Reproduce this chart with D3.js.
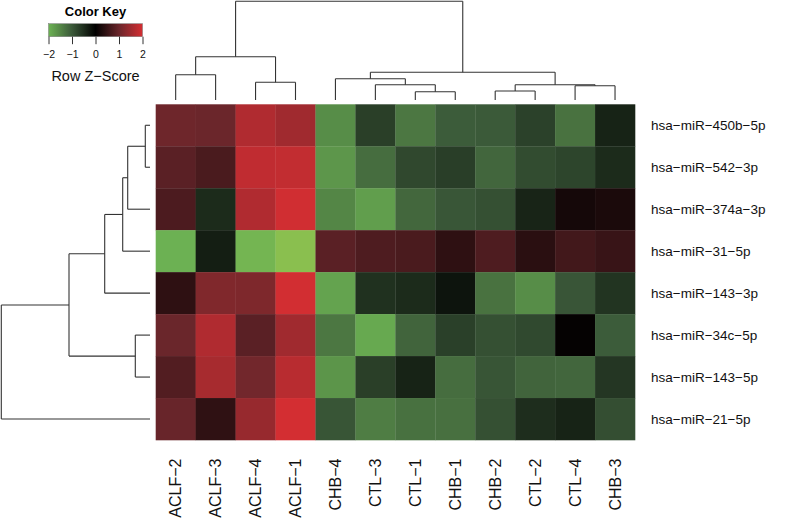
<!DOCTYPE html>
<html>
<head>
<meta charset="utf-8">
<script src="https://cdn.jsdelivr.net/npm/d3@7"></script>
<style>
  body { margin: 0; background: #fff; }
  svg { display: block; font-family: "Liberation Sans", Arial, sans-serif; }
</style>
</head>
<body>
<svg></svg>
<script>
var width = 787,
    height = 519;

// columns and rows in dendrogram order
var colLabels = ["ACLF-2", "ACLF-3", "ACLF-4", "ACLF-1", "CHB-4", "CTL-3", "CTL-1", "CHB-1", "CHB-2", "CTL-2", "CTL-4", "CHB-3"];
var rowLabels = ["hsa-miR-450b-5p", "hsa-miR-542-3p", "hsa-miR-374a-3p", "hsa-miR-31-5p",
                 "hsa-miR-143-3p", "hsa-miR-34c-5p", "hsa-miR-143-5p", "hsa-miR-21-5p"];

// row z-scores, one array per miRNA, same order as colLabels
var z450b = [1.04, 1.01, 1.66, 1.51, -1.58, -0.71, -1.34, -1.03, -1.01, -0.73, -1.28, -0.39];
var z542  = [0.85, 0.70, 1.81, 1.83, -1.69, -1.22, -0.81, -0.70, -1.15, -0.85, -0.77, -0.48];
var z374a = [0.72, -0.48, 1.66, 1.96, -1.50, -1.77, -1.16, -0.97, -0.90, -0.41, 0.20, 0.25];
var z31   = [-1.99, -0.34, -2.05, -2.19, 0.85, 0.74, 0.70, 0.43, 0.74, 0.40, 0.62, 0.53];
var z143_3 = [0.43, 1.21, 1.19, 1.98, -1.83, -0.55, -0.48, -0.22, -1.28, -1.58, -0.96, -0.58];
var z34c  = [1.00, 1.66, 0.85, 1.51, -1.34, -1.90, -1.12, -0.72, -0.90, -0.82, 0.05, -1.03];
var z143_5 = [0.77, 1.58, 1.08, 1.74, -1.67, -0.71, -0.39, -1.23, -0.95, -1.12, -1.15, -0.61];
var z21   = [0.98, 0.44, 1.42, 1.99, -0.95, -1.41, -1.27, -1.26, -0.90, -0.50, -0.39, -0.88];
var zRows = [z450b, z542, z374a, z31, z143_3, z34c, z143_5, z21];

// hclust-style merges: [a, b, height]; "L" + i = leaf i, "M" + j = merge j
var colMerge = [
  ["L0", "L1", 2.53],
  ["L2", "L3", 1.77],
  ["M0", "M1", 4.33],
  ["L6", "L7", 0.83],
  ["L5", "M3", 1.53],
  ["L4", "M4", 2.13],
  ["L8", "L9", 0.90],
  ["L10", "L11", 1.43],
  ["M6", "M7", 1.53],
  ["M5", "M8", 2.77],
  ["M2", "M9", 9.87]
];
var rowMerge = [
  ["L0", "L1", 0.47],
  ["M0", "L2", 2.23],
  ["M1", "L3", 2.73],
  ["M2", "L4", 4.53],
  ["L5", "L6", 1.47],
  ["M3", "M4", 8.10],
  ["M5", "L7", 14.87]
];

var keyTicks = [-2, -1, 0, 1, 2];

var svg = d3.select("svg")
    .attr("width", width)
    .attr("height", height);

var x = d3.scaleBand()
    .domain(colLabels)
    .range([155.7, 635]);

var y = d3.scaleBand()
    .domain(rowLabels)
    .range([104.3, 440]);

// green - black - red, with a couple of extra stops to follow the print's tones
var color = d3.scaleLinear()
    .domain([-2.2, -2, -1, 0, 1, 2])
    .range(["#8cc04f", "#6cb253", "#3b5939", "#000000", "#6a262b", "#d42e32"])
    .clamp(true);

var minus = s => s.replace(/-/g, "\u2212");

// heatmap cells
var cells = [];
zRows.forEach((vals, i) => {
    vals.forEach((v, j) => cells.push({ row: rowLabels[i], col: colLabels[j], v: v }));
});

svg.append("g")
    .selectAll("rect")
    .data(cells)
    .enter().append("rect")
    .attr("x", d => x(d.col))
    .attr("y", d => y(d.row))
    .attr("width", x.bandwidth() + 0.3)
    .attr("height", y.bandwidth() + 0.3)
    .attr("fill", d => color(d.v));

// row labels
svg.append("g")
    .selectAll("text")
    .data(rowLabels)
    .enter().append("text")
    .attr("x", 651)
    .attr("y", d => y(d) + y.bandwidth() / 2)
    .attr("dy", "0.35em")
    .attr("font-size", "13.5px")
    .attr("fill", "#111")
    .text(d => minus(d));

// column labels
svg.append("g")
    .selectAll("text")
    .data(colLabels)
    .enter().append("text")
    .attr("transform", d => "translate(" + [x(d) + x.bandwidth() / 2, 458.5] + ") rotate(-90)")
    .attr("text-anchor", "end")
    .attr("dy", "0.35em")
    .attr("font-size", "16px")
    .attr("fill", "#111")
    .text(d => minus(d));

// dendrograms
function layoutMerges(merges, leafPos) {
    var nodes = [];
    function get(id) {
        var k = +id.slice(1);
        return id[0] === "L" ? { pos: leafPos(k), h: 0 } : nodes[k];
    }
    var segs = [];
    merges.forEach(m => {
        var a = get(m[0]), b = get(m[1]), h = m[2];
        segs.push({ p1: a.pos, h1: h, p2: b.pos, h2: h });
        segs.push({ p1: a.pos, h1: a.h, p2: a.pos, h2: h });
        segs.push({ p1: b.pos, h1: b.h, p2: b.pos, h2: h });
        nodes.push({ pos: (a.pos + b.pos) / 2, h: h });
    });
    return segs;
}

var colH = d3.scaleLinear()
    .domain([0, d3.max(colMerge, d => d[2])])
    .range([100, 1.3]);

svg.append("g")
    .selectAll("line")
    .data(layoutMerges(colMerge, k => x(colLabels[k]) + x.bandwidth() / 2))
    .enter().append("line")
    .attr("x1", d => d.p1)
    .attr("x2", d => d.p2)
    .attr("y1", d => colH(d.h1))
    .attr("y2", d => colH(d.h2))
    .attr("stroke", "#333")
    .attr("stroke-width", 1.1);

var rowH = d3.scaleLinear()
    .domain([0, d3.max(rowMerge, d => d[2])])
    .range([150, 1.3]);

svg.append("g")
    .selectAll("line")
    .data(layoutMerges(rowMerge, k => y(rowLabels[k]) + y.bandwidth() / 2))
    .enter().append("line")
    .attr("y1", d => d.p1)
    .attr("y2", d => d.p2)
    .attr("x1", d => rowH(d.h1))
    .attr("x2", d => rowH(d.h2))
    .attr("stroke", "#333")
    .attr("stroke-width", 1.1);

// color key
var keyX = d3.scaleLinear()
    .domain([-2, 2])
    .range([48.5, 142.5]);

var grad = svg.append("defs").append("linearGradient")
    .attr("id", "keygrad");
d3.range(-2, 2.01, 0.25).forEach(v => {
    grad.append("stop")
        .attr("offset", ((v + 2) / 4 * 100) + "%")
        .attr("stop-color", color(v));
});

var key = svg.append("g");

key.append("text")
    .attr("x", 95.5)
    .attr("y", 16)
    .attr("text-anchor", "middle")
    .attr("font-size", "13px")
    .attr("font-weight", "bold")
    .text("Color Key");

key.append("rect")
    .attr("x", keyX(-2))
    .attr("y", 23.7)
    .attr("width", keyX(2) - keyX(-2))
    .attr("height", 13)
    .attr("fill", "url(#keygrad)")
    .attr("stroke", "#777")
    .attr("stroke-width", 0.5);

key.append("g")
    .attr("transform", "translate(0,36.7)")
    .call(d3.axisBottom(keyX).tickValues(keyTicks).tickSize(7.5).tickPadding(6)
        .tickFormat(d => minus(String(d))))
    .call(g => g.select(".domain").remove())
    .call(g => g.selectAll("line").attr("stroke", "#333"))
    .call(g => g.selectAll("text").attr("font-size", "10.5px")
        .attr("font-family", "'Liberation Sans', Arial, sans-serif").attr("fill", "#111"));

key.append("text")
    .attr("x", 95.5)
    .attr("y", 81)
    .attr("text-anchor", "middle")
    .attr("font-size", "14.5px")
    .attr("fill", "#111")
    .text(minus("Row Z-Score"));
</script>
</body>
</html>
